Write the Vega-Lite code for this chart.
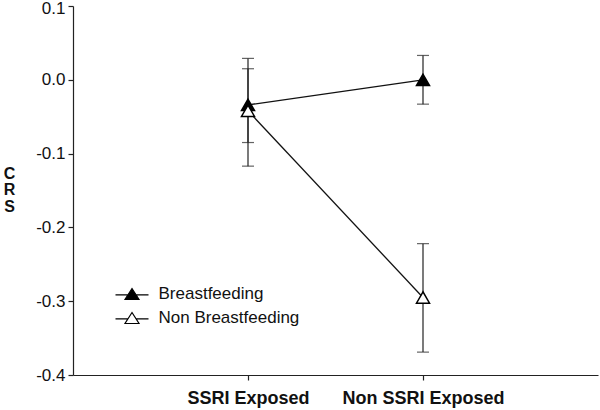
{
  "$schema": "https://vega.github.io/schema/vega-lite/v6.json",
  "width": 525,
  "height": 369,
  "autosize": {"type": "none"},
  "padding": {"left": 73, "top": 6, "right": 2, "bottom": 35},
  "config": {
    "view": {"stroke": null},
    "font": "Liberation Sans",
    "axis": {"grid": false, "domainColor": "#222", "tickColor": "#222", "labelColor": "#111", "titleColor": "#111", "tickSize": 5, "domainWidth": 1.2, "tickWidth": 1.2}
  },
  "data": {
    "values": [
      {"group": "Breastfeeding", "exposure": "SSRI Exposed", "mean": -0.034, "lo": -0.085, "hi": 0.015},
      {"group": "Breastfeeding", "exposure": "Non SSRI Exposed", "mean": 0.0, "lo": -0.033, "hi": 0.033},
      {"group": "Non Breastfeeding", "exposure": "SSRI Exposed", "mean": -0.042, "lo": -0.117, "hi": 0.029},
      {"group": "Non Breastfeeding", "exposure": "Non SSRI Exposed", "mean": -0.295, "lo": -0.369, "hi": -0.222}
    ]
  },
  "encoding": {
    "x": {
      "field": "exposure", "type": "nominal",
      "sort": ["SSRI Exposed", "Non SSRI Exposed"],
      "scale": {"type": "point", "padding": 1},
      "axis": {"title": null, "labelAngle": 0, "labelFontSize": 18, "labelFontWeight": "bold", "labelPadding": 9}
    }
  },
  "layer": [
    {
      "mark": {"type": "rule", "color": "#222", "strokeWidth": 1.2},
      "encoding": {
        "y": {"field": "lo", "type": "quantitative"},
        "y2": {"field": "hi"}
      }
    },
    {
      "mark": {"type": "tick", "color": "#222", "size": 12, "thickness": 1.2},
      "encoding": {"y": {"field": "lo", "type": "quantitative"}}
    },
    {
      "mark": {"type": "tick", "color": "#222", "size": 12, "thickness": 1.2},
      "encoding": {"y": {"field": "hi", "type": "quantitative"}}
    },
    {
      "mark": {"type": "line", "color": "#111", "strokeWidth": 1.3},
      "encoding": {
        "y": {"field": "mean", "type": "quantitative"},
        "detail": {"field": "group"}
      }
    },
    {
      "mark": {"type": "point", "shape": "triangle-up", "size": 170, "stroke": "#000", "strokeWidth": 1.5, "opacity": 1, "filled": true},
      "encoding": {
        "y": {
          "field": "mean", "type": "quantitative",
          "scale": {"domain": [-0.4, 0.1], "nice": false, "zero": false},
          "axis": {
            "values": [-0.4, -0.3, -0.2, -0.1, 0, 0.1],
            "labelExpr": "replace(format(datum.value, '.1f'), '\u2212', '-')",
            "labelFontSize": 17, "labelPadding": 3,
            "labelOffset": {"condition": {"test": "datum.value > 0.05", "value": 2}, "value": 0},
            "title": ["C", "R", "S"],
            "titleAngle": 0, "titleFontSize": 16, "titleFontWeight": "bold",
            "titleAlign": "center", "titleBaseline": "middle",
            "titleX": -64, "titleY": 167, "titleLineHeight": 16.5
          }
        },
        "fill": {
          "field": "group", "type": "nominal",
          "scale": {"domain": ["Breastfeeding", "Non Breastfeeding"], "range": ["#000", "#fff"]},
          "legend": {
            "title": null, "orient": "none", "legendX": 48, "legendY": 277,
            "symbolType": "M-1.65,0.08L-0.4,0.08M0.4,0.08L1.65,0.08M0,-0.55L0.7,0.55L-0.7,0.55Z",
            "symbolSize": 400, "symbolStrokeColor": "#000", "symbolStrokeWidth": 1.2,
            "labelFontSize": 17, "labelOffset": 15.5, "labelColor": "#111", "rowPadding": 5, "padding": 0
          }
        }
      }
    }
  ]
}
